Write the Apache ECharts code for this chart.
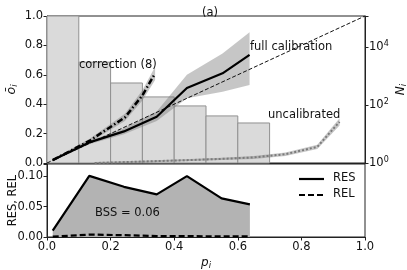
<!DOCTYPE html>
<html>
<head>
<meta charset="utf-8">
<script src="https://cdn.jsdelivr.net/npm/echarts/dist/echarts.min.js"></script>
<style>html,body{margin:0;padding:0;background:#fff}#c{width:407px;height:270px}</style>
</head>
<body>
<div id="c"></div>
<script>
// ---- data ----
const binEdges = [0.0, 0.1, 0.2, 0.3, 0.4, 0.5, 0.6, 0.7];
const binCounts = [150000, 3000, 575, 190, 93, 42, 24];

const fullP   = [0.018, 0.133, 0.242, 0.345, 0.44, 0.552, 0.637];
const fullObs = [0.02, 0.14, 0.215, 0.315, 0.51, 0.61, 0.735];
const fullLo  = [0.012, 0.128, 0.195, 0.285, 0.44, 0.485, 0.53];
const fullHi  = [0.028, 0.152, 0.235, 0.35, 0.60, 0.745, 0.89];

const corrP   = [0.018, 0.133, 0.245, 0.30, 0.34];
const corrObs = [0.02, 0.15, 0.31, 0.46, 0.61];
const corrLo  = [0.012, 0.137, 0.285, 0.425, 0.565];
const corrHi  = [0.028, 0.163, 0.335, 0.495, 0.655];

const uncP   = [0.15, 0.3, 0.45, 0.55, 0.65, 0.75, 0.85, 0.92];
const uncObs = [0.0, 0.01, 0.02, 0.028, 0.038, 0.06, 0.11, 0.28];
const uncLo  = [0.0, 0.004, 0.013, 0.02, 0.028, 0.048, 0.095, 0.255];
const uncHi  = [0.006, 0.016, 0.027, 0.036, 0.048, 0.072, 0.125, 0.305];

const diagP = [0, 1];

const resP   = [0.018, 0.133, 0.242, 0.345, 0.44, 0.549, 0.638];
const resVal = [0.0103, 0.1005, 0.0825, 0.070, 0.100, 0.0634, 0.0536];
const relVal = [0.0005, 0.004, 0.003, 0.0015, 0.0015, 0.001, 0.001];

const xTicks = [0, 0.2, 0.4, 0.6, 0.8, 1.0];
const legendNames = ['RES', 'REL'];

// ---- chart ----
const FONT = 'DejaVu Sans';
const FS = 11.5;
const chart = echarts.init(document.getElementById('c'), null, {renderer: 'canvas'});

const zip = (a, b) => a.map((v, i) => [v, b[i]]);
const zip3 = (a, b, c) => a.map((v, i) => [v, b[i], c[i]]);

function bandSeries(P, lo, hi, color) {
  const data = zip3(P, lo, hi);
  return {
    type: 'custom', xAxisIndex: 0, yAxisIndex: 0, z: 2,
    data: data,
    encode: {x: 0, y: [1, 2]},
    renderItem: function (params, api) {
      if (params.dataIndex !== 0) return null;
      const pts = [];
      for (let i = 0; i < data.length; i++) pts.push(api.coord([data[i][0], data[i][2]]));
      for (let i = data.length - 1; i >= 0; i--) pts.push(api.coord([data[i][0], data[i][1]]));
      return {type: 'polygon', shape: {points: pts}, style: {fill: color, stroke: null}};
    },
    silent: true
  };
}

const histData = binCounts.map((c, i) => [binEdges[i], binEdges[i + 1], Math.log10(c)]);
const NMAX = 5.07;

const axisLineStyle = {lineStyle: {color: '#222', width: 1}};
const tickStyle = {show: true, length: 3.5, lineStyle: {color: '#222', width: 1}};
const labelStyle = {color: '#111', fontFamily: FONT, fontSize: FS};

const supRich = {
  b: {fontFamily: FONT, fontSize: FS, color: '#111'},
  s: {fontFamily: FONT, fontSize: 8, color: '#111', padding: [0, 0, 7, 0]}
};
const txtFont = FS + 'px "' + FONT + '"';

const option = {
  animation: false,
  backgroundColor: '#fff',
  title: {
    text: '(a)', left: 205, top: 2, textAlign: 'center',
    textStyle: {fontFamily: FONT, fontSize: FS, fontWeight: 'normal', color: '#111'}
  },
  grid: [
    {left: 47, top: 16, width: 318, height: 147, show: true, borderColor: '#222', borderWidth: 1, backgroundColor: 'transparent', containLabel: false, outerBoundsMode: 'none'},
    {left: 47, top: 164, width: 318, height: 73, show: true, borderColor: '#222', borderWidth: 1, backgroundColor: 'transparent', containLabel: false, outerBoundsMode: 'none'}
  ],
  xAxis: [
    {gridIndex: 0, type: 'value', min: 0, max: 1, interval: 0.2,
     axisLine: axisLineStyle, axisTick: {show: false}, axisLabel: {show: false}, splitLine: {show: false}},
    {gridIndex: 1, type: 'value', min: 0, max: 1, interval: 0.2,
     axisLine: axisLineStyle, axisTick: tickStyle,
     axisLabel: Object.assign({margin: 4, formatter: v => xTicks.some(t => Math.abs(t - v) < 1e-9) ? v.toFixed(1) : ''}, labelStyle),
     splitLine: {show: false},
     name: '{m|p}{sub|i}', nameLocation: 'middle', nameGap: 18, nameMoveOverlap: false,
     nameTextStyle: {rich: {
       m: {fontFamily: FONT, fontSize: 12, fontStyle: 'italic', color: '#111'},
       sub: {fontFamily: FONT, fontSize: 8.5, fontStyle: 'italic', color: '#111', padding: [6, 0, 0, 0]}
     }}}
  ],
  yAxis: [
    {gridIndex: 0, type: 'value', min: 0, max: 1, interval: 0.2, position: 'left',
     axisLine: axisLineStyle, axisTick: tickStyle,
     axisLabel: Object.assign({margin: 4, formatter: v => v.toFixed(1)}, labelStyle),
     splitLine: {show: false},
     name: '{m|ō}{sub|i}', nameLocation: 'middle', nameGap: 28, nameRotate: 90, nameMoveOverlap: false,
     nameTextStyle: {rich: {
       m: {fontFamily: FONT, fontSize: 12.5, fontStyle: 'italic', color: '#111'},
       sub: {fontFamily: FONT, fontSize: 8.5, fontStyle: 'italic', color: '#111', padding: [6, 0, 0, 0]}
     }}},
    {gridIndex: 0, type: 'value', min: 0, max: NMAX, interval: 2, position: 'right',
     axisLine: axisLineStyle, axisTick: tickStyle,
     axisLabel: {margin: 4, formatter: v => (Math.abs(v - Math.round(v)) < 1e-9 && Math.round(v) % 2 === 0) ? '{b|10}{s|' + Math.round(v) + '}' : '', rich: supRich},
     splitLine: {show: false},
     name: '{m|N}{sub|i}', nameLocation: 'middle', nameGap: 28, nameRotate: 90, nameMoveOverlap: false,
     nameTextStyle: {rich: {
       m: {fontFamily: FONT, fontSize: 12, fontStyle: 'italic', color: '#111'},
       sub: {fontFamily: FONT, fontSize: 8.5, fontStyle: 'italic', color: '#111', padding: [6, 0, 0, 0]}
     }}},
    {gridIndex: 1, type: 'value', min: 0, max: 0.12, interval: 0.05, position: 'left',
     axisLine: axisLineStyle, axisTick: tickStyle,
     axisLabel: Object.assign({margin: 4, formatter: v => (Math.abs(v / 0.05 - Math.round(v / 0.05)) < 1e-6) ? v.toFixed(2) : ''}, labelStyle),
     splitLine: {show: false},
     name: 'RES, REL', nameLocation: 'middle', nameGap: 28, nameRotate: 90, nameMoveOverlap: false,
     nameTextStyle: {fontFamily: FONT, fontSize: FS, color: '#111'}}
  ],
  series: [
    {
      name: 'hist', type: 'custom', xAxisIndex: 0, yAxisIndex: 1, z: 1,
      data: histData, encode: {x: [0, 1], y: 2}, silent: true,
      renderItem: function (params, api) {
        const v = Math.min(api.value(2), NMAX);
        const p0 = api.coord([api.value(0), 0]);
        const p1 = api.coord([api.value(1), v]);
        return {type: 'rect', shape: {x: p0[0], y: p1[1], width: p1[0] - p0[0], height: p0[1] - p1[1]},
                style: {fill: '#dadada', stroke: '#909090', lineWidth: 1}};
      }
    },
    bandSeries(fullP, fullLo, fullHi, 'rgba(120,120,120,0.42)'),
    bandSeries(corrP, corrLo, corrHi, 'rgba(120,120,120,0.42)'),
    bandSeries(uncP, uncLo, uncHi, 'rgba(120,120,120,0.42)'),
    {name: 'diag', type: 'line', xAxisIndex: 0, yAxisIndex: 0, z: 3, data: zip(diagP, diagP), symbol: 'none',
     lineStyle: {color: '#111', width: 1, type: [4, 2]}},
    {name: 'full calibration', type: 'line', xAxisIndex: 0, yAxisIndex: 0, z: 4, data: zip(fullP, fullObs), symbol: 'none',
     lineStyle: {color: '#000', width: 2.2}},
    {name: 'correction (8)', type: 'line', xAxisIndex: 0, yAxisIndex: 0, z: 4, data: zip(corrP, corrObs), symbol: 'none',
     lineStyle: {color: '#000', width: 2.5, type: [6, 2.5, 1.5, 2.5]}},
    {name: 'uncalibrated', type: 'line', xAxisIndex: 0, yAxisIndex: 0, z: 4, data: zip(uncP, uncObs), symbol: 'none',
     lineStyle: {color: '#7a7a7a', width: 2, type: [2, 2]}},
    {name: legendNames[0], type: 'line', xAxisIndex: 1, yAxisIndex: 2, z: 3, data: zip(resP, resVal), symbol: 'none',
     lineStyle: {color: '#000', width: 2.2}, itemStyle: {color: '#000'},
     areaStyle: {color: '#b3b3b3', opacity: 1}},
    {name: legendNames[1], type: 'line', xAxisIndex: 1, yAxisIndex: 2, z: 4, data: zip(resP, relVal), symbol: 'none',
     lineStyle: {color: '#000', width: 2.2, type: [6, 3]}, itemStyle: {color: '#000'}}
  ],
  graphic: [
    {type: 'text', left: 79, top: 59, z: 10, style: {text: 'correction (8)', font: txtFont, fill: '#111'}},
    {type: 'text', left: 250, top: 41, z: 10, style: {text: 'full calibration', font: txtFont, fill: '#111'}},
    {type: 'text', left: 268, top: 109, z: 10, style: {text: 'uncalibrated', font: txtFont, fill: '#111'}},
    {type: 'text', left: 95, top: 207, z: 10, style: {text: 'BSS = 0.06', font: txtFont, fill: '#111'}},
    // legend
    {type: 'line', z: 10, shape: {x1: 299, y1: 179, x2: 324, y2: 179}, style: {stroke: '#000', lineWidth: 2.2}},
    {type: 'text', left: 333, top: 172, z: 10, style: {text: legendNames[0], font: txtFont, fill: '#111'}},
    {type: 'line', z: 10, shape: {x1: 299, y1: 195, x2: 324, y2: 195}, style: {stroke: '#000', lineWidth: 2.2, lineDash: [6, 3]}},
    {type: 'text', left: 333, top: 188, z: 10, style: {text: legendNames[1], font: txtFont, fill: '#111'}}
  ]
};
chart.setOption(option);
</script>
</body>
</html>
